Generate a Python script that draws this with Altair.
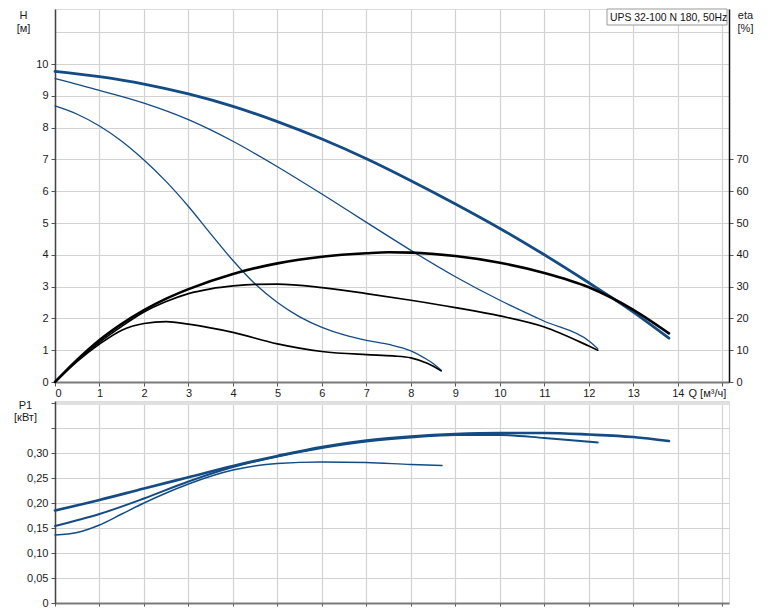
import altair as alt
import pandas as pd

TITLE = "UPS 32-100 N 180, 50Hz"

# Head curves H [m]
Q_H1 = [0, 0.5, 1, 1.5, 2, 2.5, 3, 3.5, 4, 4.5, 5, 5.5, 6, 6.5, 7, 7.5, 8, 8.3, 8.5, 8.68]
H1 = [8.68, 8.42, 8.05, 7.57, 6.98, 6.3, 5.52, 4.66, 3.82, 3.08, 2.5, 2.05, 1.72, 1.48, 1.31, 1.18, 0.98, 0.76, 0.58, 0.37]
Q_H2 = [0, 1, 2, 3, 4, 5, 6, 7, 8, 9, 10, 11, 12, 12.2]
H2 = [9.54, 9.17, 8.77, 8.25, 7.57, 6.77, 5.91, 5.02, 4.14, 3.31, 2.57, 1.91, 1.29, 1.05]
Q_H3 = [0, 1, 2, 3, 4, 5, 6, 7, 8, 9, 10, 11, 12, 13, 13.8]
H3 = [9.77, 9.6, 9.37, 9.06, 8.67, 8.19, 7.64, 7.02, 6.33, 5.6, 4.83, 4.0, 3.12, 2.2, 1.38]

# Efficiency curves eta [%]
Q_E1 = [0, 0.5, 1, 1.5, 1.75, 2, 2.5, 3, 4, 5, 6, 7, 7.6, 8, 8.38, 8.68]
E1 = [0, 6.5, 11.9, 16.3, 17.6, 18.4, 19.0, 18.2, 15.6, 12.0, 9.6, 8.6, 8.2, 7.6, 5.8, 3.5]
Q_E2 = [0, 0.5, 1, 1.5, 2, 2.5, 3, 3.5, 4, 4.5, 5, 6, 7, 8, 9, 10, 11, 12, 12.2]
E2 = [0, 6.8, 12.5, 17.5, 22, 25.3, 27.8, 29.3, 30.2, 30.7, 30.8, 29.7, 27.8, 25.7, 23.4, 20.8, 17.3, 11.3, 10.0]
Q_E3 = [0, 0.5, 1, 1.5, 2, 2.5, 3, 4, 5, 6, 7, 7.5, 8, 9, 10, 11, 12, 13, 13.8]
E3 = [0, 7, 13.2, 18.3, 22.6, 26.2, 29.2, 34.0, 37.3, 39.4, 40.5, 40.8, 40.7, 39.6, 37.5, 34.3, 29.8, 22.7, 15.3]

# Power curves P1 [kW]
Q_P1 = [0, 0.5, 1, 1.5, 2, 2.5, 3, 4, 5, 6, 7, 8, 8.7]
P1 = [0.136, 0.141, 0.156, 0.178, 0.2, 0.22, 0.238, 0.266, 0.279, 0.282, 0.281, 0.277, 0.275]
Q_P2 = [0, 1, 2, 3, 4, 5, 6, 7, 8, 9, 10, 11, 12.2]
P2 = [0.154, 0.178, 0.209, 0.243, 0.272, 0.293, 0.31, 0.323, 0.331, 0.336, 0.336, 0.33, 0.321]
Q_P3 = [0, 1, 2, 3, 4, 5, 6, 7, 8, 9, 10, 11, 12, 13, 13.8]
P3 = [0.185, 0.206, 0.229, 0.2515, 0.274, 0.294, 0.312, 0.325, 0.333, 0.338, 0.34, 0.34, 0.337, 0.332, 0.324]

Q_TICKS = list(range(0, 16))
H_TICKS = list(range(0, 12))
ETA_TICKS = list(range(0, 80, 10))
P_TICKS = [0, 0.05, 0.1, 0.15, 0.2, 0.25, 0.3, 0.35, 0.4]


def frame(qs, vs):
    return pd.DataFrame({"Q": qs, "v": vs})


BLUE = "#134b85"
FONT = "Liberation Sans"
GRID = "#d2d2d2"
W = 674
H_TOP = 11.73
TOP_H = 373
BOT_H = 202
P_TOP = 0.404
QMAX = 15.15

xscale = alt.Scale(domain=[0, QMAX], nice=False, zero=False)
hscale = alt.Scale(domain=[0, H_TOP], nice=False)
escale = alt.Scale(domain=[0, H_TOP * 10], nice=False)
pscale = alt.Scale(domain=[0, P_TOP], nice=False)

common = dict(labelFont=FONT, labelFontSize=11, labelColor="#1a1a1a", labelOverlap=False,
              titleFont=FONT, titleFontSize=11, titleFontWeight="normal",
              titleColor="#1a1a1a", tickColor="#555", tickSize=4,
              gridColor=GRID, gridWidth=1.2)

x_top_axis = alt.Axis(values=Q_TICKS, grid=True, labelPadding=1, labelAngle=0,
                      labelExpr="datum.value > 14 ? '' : datum.label",
                      domainColor="#7a7a7a", domainWidth=2,
                      title="Q [м³/ч]", titleAngle=0, titleAlign="left",
                      titleBaseline="top", titleX=633, titleY=5, **common)
h_axis = alt.Axis(values=H_TICKS, grid=True, labelPadding=3,
                  labelExpr="datum.value > 10 ? '' : datum.label",
                  tickOpacity={"condition": {"test": "datum.value > 10", "value": 0}, "value": 1},
                  domainColor="#444", domainWidth=1.5,
                  title=["H", "[м]"], titleAngle=0, titleAlign="center",
                  titleBaseline="top", titleX=-32, titleY=0, titleLineHeight=13, **common)
eta_axis = alt.Axis(values=ETA_TICKS, grid=False, orient="right", labelPadding=3,
                    domainColor="#111", domainWidth=1.5,
                    title=["eta", "[%]"], titleAngle=0, titleAlign="center",
                    titleBaseline="top", titleX=16, titleY=0, titleLineHeight=13, **common)
x_bot_axis = alt.Axis(values=Q_TICKS, grid=True, labels=False, title=None,
                      domainColor="#7a7a7a", domainWidth=2, **{**common, "tickSize": 3})
p_axis = alt.Axis(values=P_TICKS, grid=True, labelPadding=3,
                  labelExpr="datum.value > 0.31 ? '' : (datum.value == 0 ? '0' : replace(format(datum.value, '.2f'), '.', ','))",
                  domainColor="#444", domainWidth=1.5,
                  title=["P1", "[кВт]"], titleAngle=0, titleAlign="center",
                  titleBaseline="top", titleX=-30, titleY=-2, titleLineHeight=12,
                  **{**common, "gridWidth": {"condition": {"test": "datum.value > 0.39", "value": 3}, "value": 1.2},
                     "gridColor": {"condition": {"test": "datum.value > 0.39", "value": "#e0e0e0"}, "value": GRID}})


def curve(qs, vs, color, width, yscale, xaxis, yaxis):
    return alt.Chart(frame(qs, vs)).mark_line(
        interpolate="monotone", color=color, strokeWidth=width, strokeCap="round"
    ).encode(
        x=alt.X("Q:Q", scale=xscale, axis=xaxis),
        y=alt.Y("v:Q", scale=yscale, axis=yaxis),
        order="Q:Q",
    )


h_layer = alt.layer(
    curve(Q_H1, H1, BLUE, 1.3, hscale, x_top_axis, h_axis),
    curve(Q_H2, H2, BLUE, 1.3, hscale, x_top_axis, h_axis),
    curve(Q_H3, H3, BLUE, 2.8, hscale, x_top_axis, h_axis),
)
e_layer = alt.layer(
    curve(Q_E1, E1, "#000", 1.7, escale, x_top_axis, eta_axis),
    curve(Q_E2, E2, "#000", 1.7, escale, x_top_axis, eta_axis),
    curve(Q_E3, E3, "#000", 2.6, escale, x_top_axis, eta_axis),
)

tdf = pd.DataFrame({"t": [TITLE]})
box = alt.Chart(tdf).mark_rect(fill="white", stroke="#999", strokeWidth=1).encode(
    x=alt.value(552), x2=alt.value(672), y=alt.value(0), y2=alt.value(16))
box_text = alt.Chart(tdf).mark_text(font=FONT, fontSize=10.4, align="left", baseline="middle", color="#111").encode(
    x=alt.value(555), y=alt.value(8.5), text="t:N")

top = alt.layer(h_layer, e_layer, box, box_text).resolve_scale(y="independent").properties(width=W, height=TOP_H)

bottom = alt.layer(
    curve(Q_P1, P1, BLUE, 1.4, pscale, x_bot_axis, p_axis),
    curve(Q_P2, P2, BLUE, 1.9, pscale, x_bot_axis, p_axis),
    curve(Q_P3, P3, BLUE, 2.7, pscale, x_bot_axis, p_axis),
).properties(width=W, height=BOT_H)

chart = alt.vconcat(top, bottom, spacing=-3).resolve_scale(x="independent", y="independent").properties(
    padding={"left": 5, "top": 0, "right": 4, "bottom": 1}
).configure_view(stroke=None).configure(background="white")

chart.save("out.html", embed_options={"renderer": "svg", "actions": False})
